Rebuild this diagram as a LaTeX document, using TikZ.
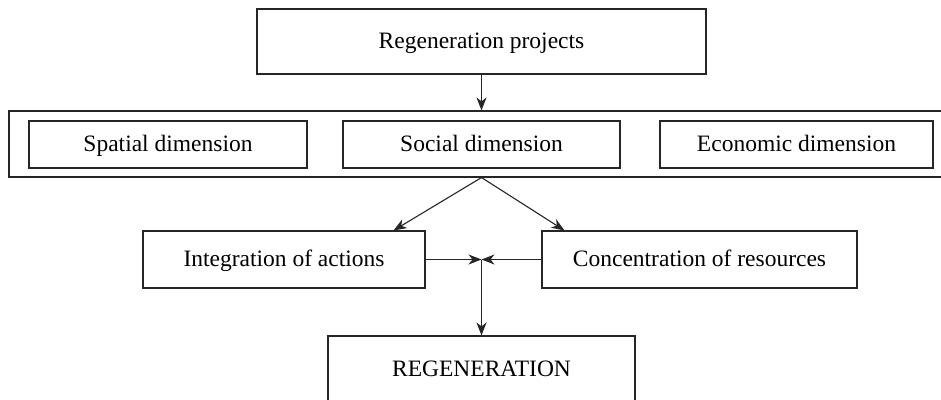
\documentclass[tikz,border=0pt]{standalone}
\usepackage{fontspec}
\setmainfont{Liberation Serif}
\usetikzlibrary{arrows.meta}

\begin{document}
\begin{tikzpicture}[x=1pt,y=-1pt,
    box/.style={draw=black!85,line width=1.1pt,inner sep=0pt,
        text height=19pt,text depth=5pt,
        font=\fontsize{23.5}{28}\selectfont},
    link/.style={draw=black!85,line width=1.1pt,
        -{Stealth[length=13pt,width=10pt,inset=4pt]}}]
\useasboundingbox (0,0) rectangle (941,399);
\clip (0,0) rectangle (941,399);

% top box
\node [box,minimum width=449pt,minimum height=65pt] (proj) at (481.5,41.5) {Regeneration projects};

% dimensions
\node [box,minimum width=945pt,minimum height=66pt] (dims) at (481.5,144) {};
\node [box,minimum width=278pt,minimum height=47pt] (spat) at (168,144.5) {Spatial dimension};
\node [box,minimum width=277pt,minimum height=47pt] (soc)  at (481.5,144.5) {Social dimension};
\node [box,minimum width=273pt,minimum height=47pt] (econ) at (796.5,144.5) {Economic dimension};

% actions and resources
\node [box,minimum width=282pt,minimum height=57pt] (integ) at (284,259.5) {Integration of actions};
\node [box,minimum width=315pt,minimum height=57pt] (conc)  at (699.5,259.5) {Concentration of resources};

% result
\node [box,minimum width=307pt,minimum height=66pt] (regen) at (481.5,369) {REGENERATION};

\coordinate (fork) at (proj.south |- dims.south);
\coordinate (meet) at (proj.south |- integ.east);

% arrows
\draw [link] (proj.south) -- (proj.south |- dims.north);
\draw [link] (fork) -- ([xshift=-32pt]integ.north east);
\draw [link] (fork) -- ([xshift=23pt]conc.north west);
\draw [link] (integ.east) -- (meet);
\draw [link] (conc.west) -- (meet);
\draw [link] (meet) -- (regen.north);

\end{tikzpicture}
\end{document}
